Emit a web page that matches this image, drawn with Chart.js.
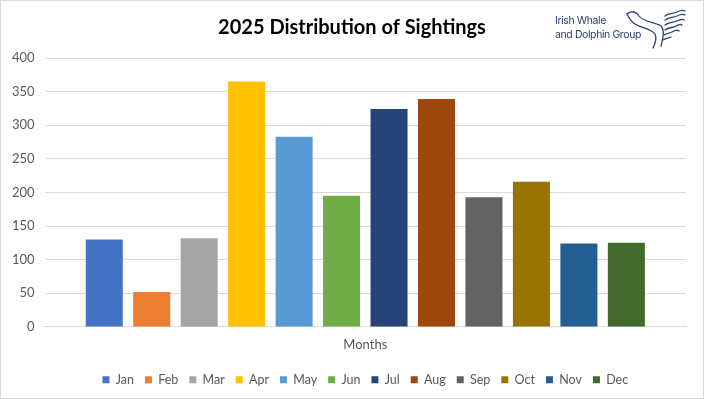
<!DOCTYPE html>
<html>
<head>
<meta charset="utf-8">
<script src="https://cdn.jsdelivr.net/npm/chart.js@4/dist/chart.umd.min.js"></script>
<style>
  html, body { margin: 0; padding: 0; background: #fff; }
  #wrap { position: relative; width: 704px; height: 399px; }
  #frame { position: absolute; left: 0; top: 0; width: 704px; height: 399px; box-sizing: border-box; border: 1px solid #d9d9d9; pointer-events: none; }
  #logo { position: absolute; left: 555px; top: 11px; width: 145px; height: 40px; }
  #logo .txt { position: absolute; left: 0; top: 3px; font-family: Inter, "Noto Sans", sans-serif; font-size: 10.5px; line-height: 14px; color: #2b3f73; letter-spacing: -0.4px; }
  #logo svg { position: absolute; left: 66px; top: -5px; }
</style>
</head>
<body>
<div id="wrap">
  <canvas id="chart" width="704" height="399"></canvas>
  <div id="logo">
    <div class="txt">Irish Whale<br>and Dolphin Group</div>
    <svg width="70" height="44" viewBox="0 0 70 44">
      <g fill="none" stroke="#2b3f73" stroke-width="1.3" stroke-linecap="round">
        <path d="M6 8 C 10 4, 16 6, 18 10 C 22 16, 34 16, 40 20 C 44 24, 42 32, 40 40"/>
        <path d="M6 8 C 8 12, 10 16, 14 18 C 20 22, 30 22, 34 28 C 36 32, 34 38, 32 42"/>
        <path d="M44 10 C 48 7, 52 8, 56 6 C 60 4, 62 4, 64 5"/>
        <path d="M44 14 C 48 11, 52 12, 56 10 C 60 8, 62 8, 64 9"/>
        <path d="M44 19 C 48 16, 52 17, 56 15 C 60 13, 62 13, 63 14"/>
        <path d="M44 24 C 48 21, 52 22, 55 20 C 58 18, 60 18, 61 19"/>
        <path d="M43 29 C 46 27, 50 27, 53 25 C 55 24, 57 24, 58 25"/>
        <path d="M42 34 C 45 32, 48 32, 50 31"/>
      </g>
    </svg>
  </div>
  <div id="frame"></div>
</div>
<script>
const months = ['Jan', 'Feb', 'Mar', 'Apr', 'May', 'Jun', 'Jul', 'Aug', 'Sep', 'Oct', 'Nov', 'Dec'];
const sightings = [130, 52, 132, 365, 283, 195, 324, 339, 193, 216, 124, 125];
const colors = ['#4472C4', '#ED7D31', '#A5A5A5', '#FFC000', '#5B9BD5', '#70AD47',
                '#264478', '#9E480E', '#636363', '#997300', '#255E91', '#43682B'];
const categories = ['Months'];

const fontFamily = 'Lato, "Open Sans", sans-serif';

// centre the title on the whole canvas, not on the padded box
const centerTitle = {
  id: 'centerTitle',
  afterLayout(chart) {
    const t = chart.titleBlock;
    if (t) { t.left += 8; t.right += 8; }
  }
};

new Chart(document.getElementById('chart'), {
  type: 'bar',
  data: {
    labels: categories,
    datasets: months.map((m, i) => ({
      label: m,
      data: [sightings[i]],
      backgroundColor: colors[i],
      borderWidth: 0,
      categoryPercentage: 0.888,
      barPercentage: 0.78
    }))
  },
  options: {
    responsive: false,
    animation: false,
    layout: { padding: { left: 2, right: 18, top: 0, bottom: 3 } },
    plugins: {
      title: {
        display: true,
        text: '2025 Distribution of Sightings',
        color: '#000',
        font: { family: fontFamily, size: 20, weight: 'bold' },
        padding: { top: 16, bottom: 18 }
      },
      legend: {
        position: 'bottom',
        fullSize: false,
        labels: {
          boxWidth: 7,
          boxHeight: 7,
          padding: 11,
          color: '#595959',
          font: { family: fontFamily, size: 12.5 }
        }
      },
      tooltip: { enabled: false }
    },
    scales: {
      x: {
        grid: { display: false, drawTicks: false },
        border: { display: true, color: '#d9d9d9' },
        ticks: { color: '#595959', font: { family: fontFamily, size: 13 }, padding: 10 }
      },
      y: {
        min: 0,
        max: 400,
        ticks: { stepSize: 50, color: '#595959', font: { family: fontFamily, size: 13 }, padding: 10 },
        grid: { color: '#d9d9d9', drawTicks: false },
        border: { display: false }
      }
    }
  },
  plugins: [centerTitle]
});
</script>
</body>
</html>
